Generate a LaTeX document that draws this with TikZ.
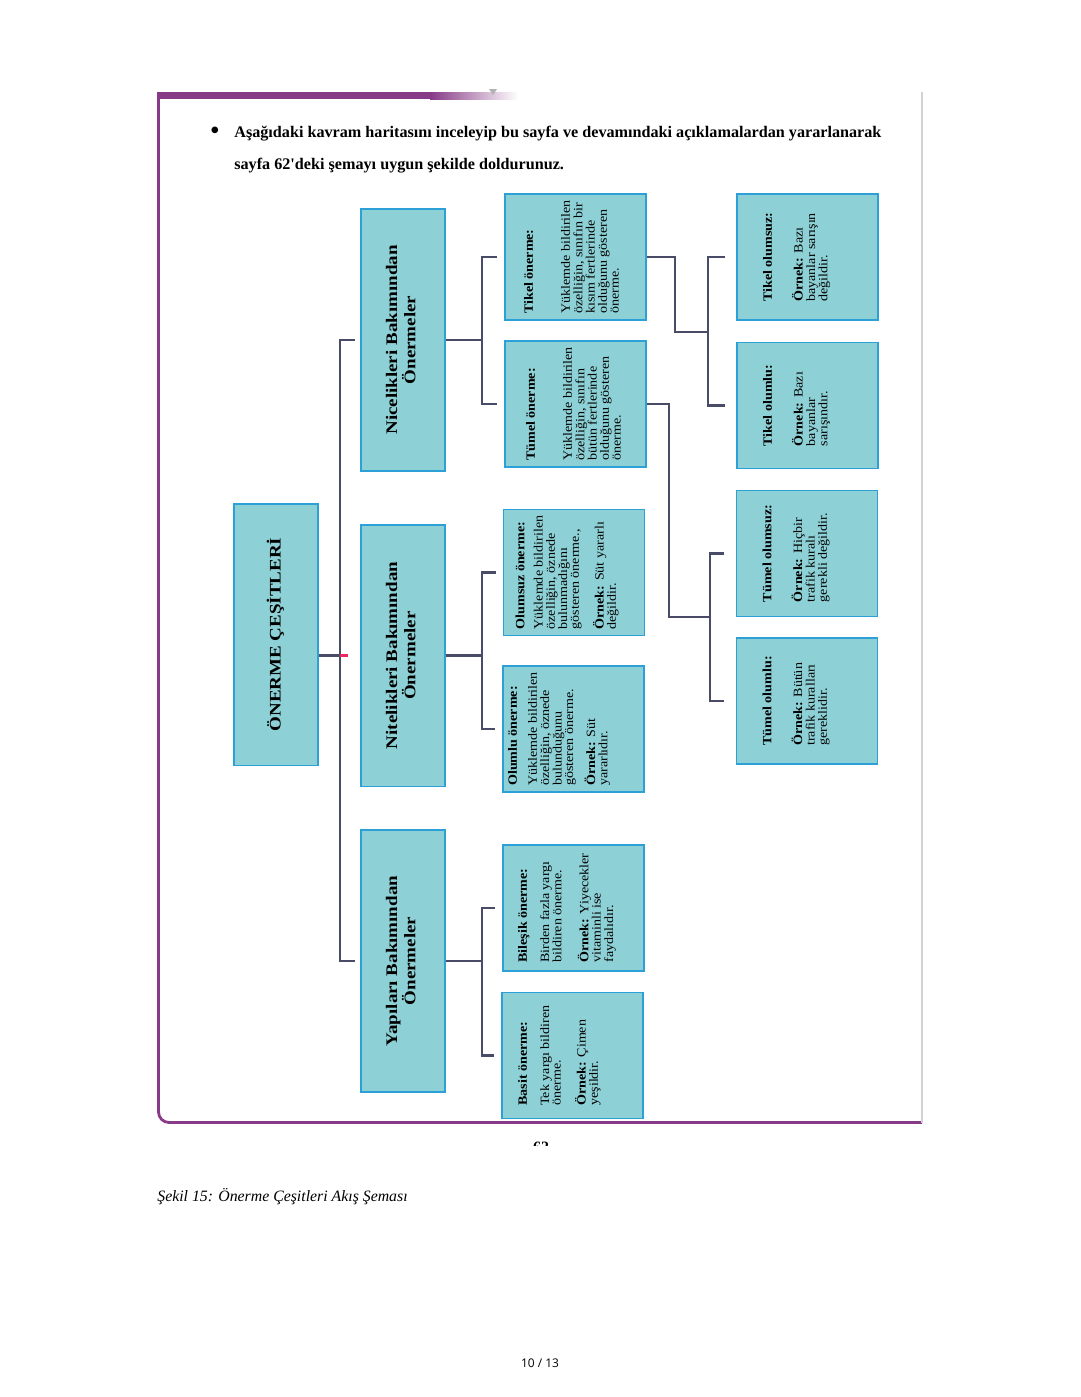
\documentclass[tikz,border=0pt]{standalone}
\usepackage{fontspec}
\setmainfont{Liberation Serif}
\newfontfamily\pagefont{Open Sans}
\usetikzlibrary{calc}

\definecolor{cardfill}{RGB}{141,208,213}
\definecolor{cardline}{RGB}{45,160,215}
\definecolor{linkcol}{RGB}{72,76,102}
\definecolor{framecol}{RGB}{135,58,135}
\definecolor{tickred}{RGB}{235,40,95}

\newcommand{\bigtxt}[1]{\scalebox{1}[0.85]{\fontsize{10.8}{10.6}\selectfont\bfseries\begin{tabular}{@{}c@{}}#1\end{tabular}}}
\newcommand{\cardtxt}[2]{\scalebox{1}[0.9]{\parbox[c][\dimexpr(2.82cm-#1*2)*10/9\relax][t]{2.45cm}{\centering\fontsize{8}{7.37}\selectfont\begin{tabular}[t]{@{}l@{}}#2\end{tabular}}}}

\begin{document}
\begin{tikzpicture}[x=0.02cm, y=-0.02cm,
bigbox/.style={draw=cardline, fill=cardfill, line width=1.1pt, rotate=90, minimum width=5.24cm, minimum height=1.68cm, inner sep=0pt},
card/.style={draw=cardline, fill=cardfill, line width=1.1pt, rotate=90, minimum width=2.52cm, minimum height=2.82cm, inner sep=0pt},
link/.style={draw=linkcol, line width=1.6pt}
]
\useasboundingbox (0,0) rectangle (1080,1397);

% page frame
\fill[framecol] (157,92) rectangle (430,99);
\shade[left color=framecol, right color=white] (430,92) rectangle (518,99);
\fill[gray!60] (489,89) -- (497,89) -- (493,95) -- cycle;
\draw[framecol, line width=1.6pt, rounded corners=6pt] (158.5,99) -- (158.5,1122.5) -- (922,1122.5);
\draw[gray!35, line width=0.6pt] (922,92) -- (922,1122.5);

\node (bullet) at (215,133) {\fontsize{14}{14}\selectfont\bfseries\textbullet};
\node[anchor=base west, inner sep=0pt, font=\fontsize{9.2}{11}\selectfont\bfseries] (head1) at (234,137) {Aşağıdaki kavram haritasını inceleyip bu sayfa ve devamındaki açıklamalardan yararlanarak};
\node[anchor=base west, inner sep=0pt, font=\fontsize{9.2}{11}\selectfont\bfseries] (head2) at (234,169) {sayfa 62\textquotesingle deki şemayı uygun şekilde doldurunuz.};

% boxes
\node[bigbox] (root) at (276,634.5) {\bigtxt{ÖNERME ÇEŞİTLERİ}};
\node[bigbox] (nic) at (403,340) {\bigtxt{Nicelikleri Bakımından\\Önermeler}};
\node[bigbox] (nit) at (403,655.5) {\bigtxt{Nitelikleri Bakımından\\Önermeler}};
\node[bigbox] (yap) at (403,961) {\bigtxt{Yapıları Bakımından\\Önermeler}};

\node[card] (tik) at (575.5,257) {\cardtxt{0.38cm}{\textbf{Tikel önerme:}\\[15.7pt] Yüklemde bildirilen\\ özelliğin, sınıfın bir\\ kısım fertlerinde\\ olduğunu gösteren\\ önerme.}};
\node[card] (tum) at (575.5,404) {\cardtxt{0.42cm}{\textbf{Tümel önerme:}\\[15.7pt] Yüklemde bildirilen\\ özelliğin, sınıfın\\ bütün fertlerinde\\ olduğunu gösteren\\ önerme.}};
\node[card] (olz) at (574,572.5) {\cardtxt{0.24cm}{\textbf{Olumsuz önerme:}\\[3.8pt] Yüklemde bildirilen\\ özelliğin, öznede\\ bulunmadığını\\ gösteren önerme.,\\[6.9pt] \textbf{Örnek:} Süt yararlı\\ değildir.}};
\node[card] (olu) at (573.5,729) {\cardtxt{0.1cm}{\textbf{Olumlu önerme:}\\[5pt] Yüklemde bildirilen\\ özelliğin, öznede\\ bulunduğunu\\ gösteren önerme.\\[5pt] \textbf{Örnek:} Süt\\ yararlıdır.}};
\node[card] (bil) at (573.5,908) {\cardtxt{0.3cm}{\textbf{Bileşik önerme:}\\[6.3pt] Birden fazla yargı\\ bildiren önerme.\\[8.2pt] \textbf{Örnek:} Yiyecekler\\ vitaminli ise\\ faydalıdır.}};
\node[card] (bas) at (572.5,1055.5) {\cardtxt{0.32cm}{\textbf{Basit önerme:}\\[6.3pt] Tek yargı bildiren\\ önerme.\\[6.9pt] \textbf{Örnek:} Çimen\\ yeşildir.}};

\node[card] (tiz) at (807.5,257) {\cardtxt{0.52cm}{\textbf{Tikel olumsuz:}\\[10.7pt] \textbf{Örnek:} Bazı\\ bayanlar sarışın\\ değildir.}};
\node[card] (til) at (807.5,405.5) {\cardtxt{0.52cm}{\textbf{Tikel olumlu:}\\[10.7pt] \textbf{Örnek:} Bazı\\ bayanlar\\ sarışındır.}};
\node[card] (tuz) at (807,553.5) {\cardtxt{0.52cm}{\textbf{Tümel olumsuz:}\\[10.7pt] \textbf{Örnek:} Hiçbir\\ trafik kuralı\\ gerekli değildir.}};
\node[card] (tul) at (807,701) {\cardtxt{0.52cm}{\textbf{Tümel olumlu:}\\[10.7pt] \textbf{Örnek:} Bütün\\ trafik kuralları\\ gereklidir.}};

% connectors
\coordinate (bus) at (340,0);
\coordinate (br1) at (482,0);
\coordinate (j1) at (675,332);
\coordinate (br3) at (708,0);
\coordinate (j2) at (669,617);
\coordinate (br4) at (710,0);

\draw[link] (root.south |- nit.center) -- (nit.north -| bus);
\draw[link] ([xshift=-2.8pt]nic.north) -- (nic.north -| bus) -- (yap.north -| bus) -- ([xshift=-2.8pt]yap.north);
\draw[draw=tickred, line width=1.6pt] (nit.north -| bus) -- ++(8,0);

\draw[link] (nic.south) -- (nic.south -| br1);
\draw[link] ([xshift=-4pt]tik.north) -- (tik.north -| br1) -- (tum.north -| br1) -- ([xshift=-4pt]tum.north);
\draw[link] (nit.south) -- (nit.south -| br1);
\draw[link] ([xshift=-4pt]olz.north) -- (olz.north -| br1) -- (olu.north -| br1) -- ([xshift=-4pt]olu.north);
\draw[link] (yap.south) -- (yap.south -| br1);
\draw[link] ([xshift=-4pt]bil.north) -- (bil.north -| br1) -- (bas.north -| br1) -- ([xshift=-4pt]bas.north);

\draw[link] (tik.south) -| (j1) -- (j1 -| br3);
\draw[link] ([xshift=-6.5pt]tiz.north) -- (tiz.north -| br3) -- (til.north -| br3) -- ([xshift=-6.5pt]til.north);
\draw[link] (tum.south) -| (j2) -- (j2 -| br4);
\draw[link] ([xshift=-6.5pt]tuz.north) -- (tuz.north -| br4) -- (tul.north -| br4) -- ([xshift=-6.5pt]tul.north);

% page texts
\begin{scope}
\clip (525,1134) rectangle (560,1145);
\node[anchor=base, font=\fontsize{9}{10}\selectfont\bfseries] (pno) at (541,1152) {62};
\end{scope}
\node[anchor=base west, inner sep=0pt, font=\fontsize{9}{11}\selectfont\itshape] (cap) at (157,1201) {Şekil 15: Önerme Çeşitleri Akış Şeması};
\node[font=\pagefont\fontsize{6.8}{8}\selectfont] (pg) at (540,1363) {10 / 13};
\end{tikzpicture}
\end{document}
